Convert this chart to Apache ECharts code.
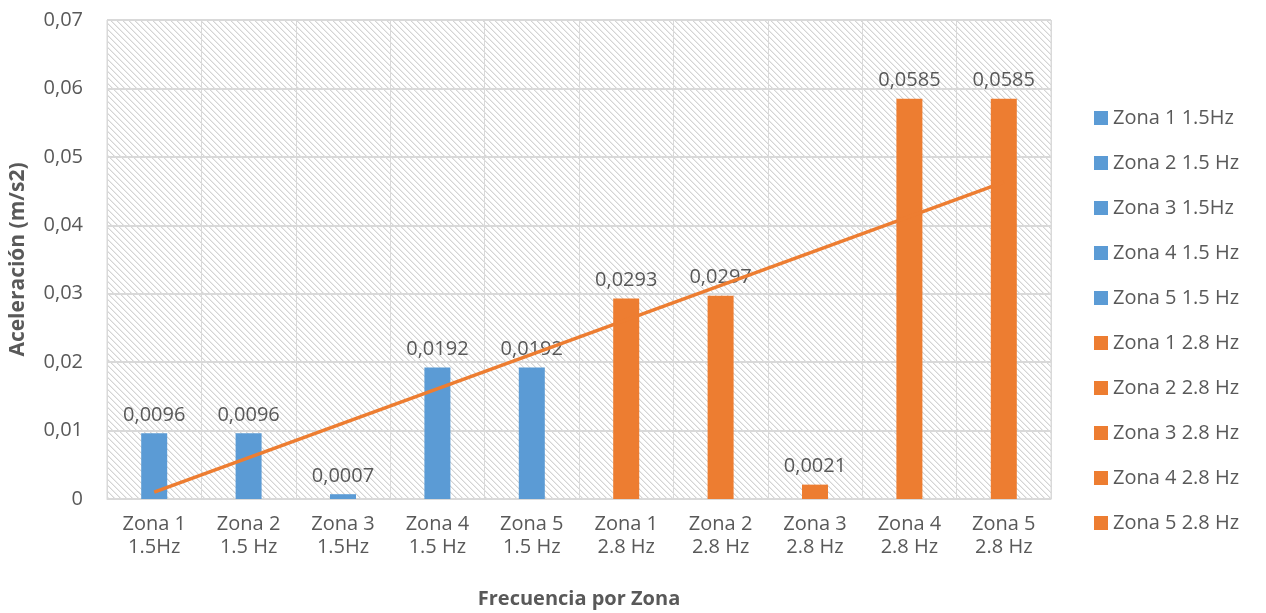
<!DOCTYPE html>
<html>
<head>
<meta charset="utf-8">
<script src="https://cdn.jsdelivr.net/npm/echarts@6/dist/echarts.min.js"></script>
<style>html,body{margin:0;padding:0;background:#fff}#c{width:1266px;height:613px}</style>
</head>
<body>
<div id="c"></div>
<script>
const categories = ['Zona 1\n1.5Hz','Zona 2\n1.5 Hz','Zona 3\n1.5Hz','Zona 4\n1.5 Hz','Zona 5\n1.5 Hz','Zona 1\n2.8 Hz','Zona 2\n2.8 Hz','Zona 3\n2.8 Hz','Zona 4\n2.8 Hz','Zona 5\n2.8 Hz'];
const seriesNames = ['Zona 1 1.5Hz','Zona 2 1.5 Hz','Zona 3 1.5Hz','Zona 4 1.5 Hz','Zona 5 1.5 Hz','Zona 1 2.8 Hz','Zona 2 2.8 Hz','Zona 3 2.8 Hz','Zona 4 2.8 Hz','Zona 5 2.8 Hz'];
const values = [0.0096, 0.0096, 0.0007, 0.0192, 0.0192, 0.0293, 0.0297, 0.0021, 0.0585, 0.0585];
const groupColor = ['blue','blue','blue','blue','blue','orange','orange','orange','orange','orange'];
// linear trendline end values (first and last category)
const trendEnds = [0.001, 0.0463];

const colors = {blue:'#5B9BD5', orange:'#ED7D31'};
const txt = '#595959';
const FONT = 'Open Sans';

// hatch pattern
const pc = document.createElement('canvas');
pc.width = 6; pc.height = 6;
const g = pc.getContext('2d');
g.fillStyle = '#ffffff'; g.fillRect(0,0,6,6);
for (let i = 0; i < 6; i++) {
  g.fillStyle = '#d4d4d4'; g.fillRect(i, i, 1, 1);
  g.fillStyle = '#ececec'; g.fillRect((i+1)%6, i, 1, 1);
}

const series = seriesNames.map((name, i) => ({
  name,
  type: 'bar',
  stack: 'one',
  barWidth: 26,
  itemStyle: {color: colors[groupColor[i]]},
  label: {
    show: true, position: 'top', distance: 8,
    color: txt, fontFamily: FONT, fontSize: 20,
    formatter: p => String(p.value).replace('.', ',')
  },
  data: values.map((v, j) => j === i ? v : null)
}));
const trendData = values.map(() => null);
trendData[0] = trendEnds[0];
trendData[trendData.length - 1] = trendEnds[1];
series.push({
  name: 'trend', type: 'line', data: trendData, connectNulls: true,
  symbol: 'none', lineStyle: {color: '#ED7D31', width: 3.5}, z: 5, silent: true
});

const chart = echarts.init(document.getElementById('c'));
chart.setOption({
  animation: false,
  textStyle: {fontFamily: FONT},
  grid: {left: 107, right: 215, top: 20, bottom: 114, show: true, containLabel: false, outerBoundsMode: 'none',
         backgroundColor: {image: pc, repeat: 'repeat'}, borderColor: '#d9d9d9', borderWidth: 1},
  legend: {
    orient: 'vertical', left: 1094, top: 108, padding: 0,
    data: seriesNames, icon: 'rect', itemWidth: 14, itemHeight: 14, itemGap: 25,
    textStyle: {color: txt, fontFamily: FONT, fontSize: 20, lineHeight: 20}
  },
  xAxis: {
    type: 'category', data: categories,
    name: 'Frecuencia por Zona', nameLocation: 'middle', nameGap: 90,
    nameTextStyle: {color: txt, fontFamily: FONT, fontSize: 20, fontWeight: 'bold'},
    axisLine: {lineStyle: {color: '#d9d9d9'}}, axisTick: {show: false},
    axisLabel: {color: txt, fontFamily: FONT, fontSize: 20, lineHeight: 23, margin: 14},
    splitLine: {show: true, lineStyle: {color: '#d9d9d9', width: 1}}
  },
  yAxis: {
    type: 'value', min: 0, max: 0.07, interval: 0.01,
    name: 'Aceleración (m/s2)', nameLocation: 'middle', nameGap: 78, nameRotate: 90,
    nameTextStyle: {color: txt, fontFamily: FONT, fontSize: 21, fontWeight: 'bold'},
    axisLine: {show: false}, axisTick: {show: false},
    axisLabel: {color: txt, fontFamily: FONT, fontSize: 20, margin: 24,
      formatter: v => v === 0 ? '0' : v.toFixed(2).replace('.', ',')},
    splitLine: {lineStyle: {color: '#d9d9d9', width: 2}}
  },
  series
});
</script>
</body>
</html>
